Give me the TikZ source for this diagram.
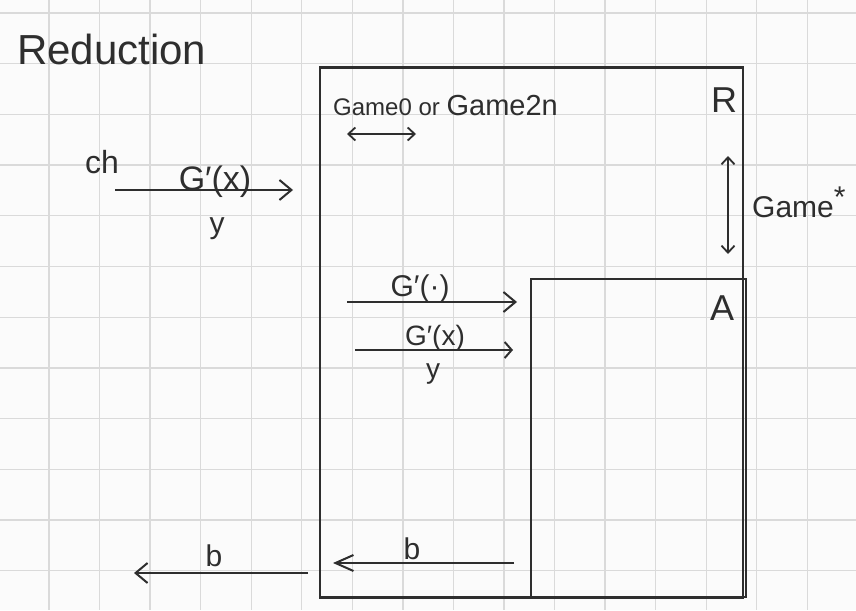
\documentclass[tikz,border=0pt]{standalone}
\usepackage{fontspec}
\setmainfont{Liberation Sans}
\usetikzlibrary{arrows.meta}
\definecolor{ink}{HTML}{2E2E2E}
\definecolor{gridc}{HTML}{DADADA}
\definecolor{paper}{HTML}{FBFBFB}
\newcommand{\fs}[1]{\fontsize{#1}{#1}\selectfont}
\tikzset{
  box/.style={draw=ink, line width=2.4pt, inner sep=0pt},
  lbl/.style={text=ink, inner sep=0pt, anchor=base},
  conn/.style={draw=ink, line width=2pt, -{Straight Barb[length=12pt,width=20pt,line width=2pt]}},
  smallconn/.style={draw=ink, line width=2pt, -{Straight Barb[length=7pt,width=16pt,line width=2pt]}},
  longconn/.style={draw=ink, line width=2pt, -{Straight Barb[length=18pt,width=16pt,line width=2pt]}},
  dconn/.style={draw=ink, line width=1.8pt, {Straight Barb[length=7pt,width=13pt,line width=1.8pt]}-{Straight Barb[length=7pt,width=13pt,line width=1.8pt]}},
}
\begin{document}
\begin{tikzpicture}[x=1pt,y=-1pt]
\useasboundingbox[fill=paper] (0,0) rectangle (856,610);
% grid
\foreach \k in {0,...,15} \draw[gridc, line width=1.3pt] ({49+50.55*\k},0) -- ({49+50.55*\k},610);
\foreach \k in {0,...,11} \draw[gridc, line width=1.3pt] (0,{13+50.7*\k}) -- (856,{13+50.7*\k});

% title
\node[lbl, anchor=base west] (title) at (17,64) {\fs{42}Reduction};

% boxes
\node[box, minimum width=423pt, minimum height=530pt] (R) at (531.5,332.5) {};
\node[box, minimum width=215pt, minimum height=318pt] (A) at (638.5,438) {};
\node[lbl] (Rl) at (724,112) {\fs{36}R};
\node[lbl] (Al) at (722,320) {\fs{36}A};

% challenger side
\node[lbl, anchor=base west] (ch) at (85,173) {\fs{32}ch};
\coordinate (c1s) at (115,190);
\coordinate (c1e) at (293,190);
\draw[conn] (c1s) -- (c1e);
\node[lbl] (gx1) at (215,190) {\fs{34}G′(x)};
\node[lbl] (y1) at (217,233) {\fs{30}y};

% game labels
\node[lbl, anchor=base west] (games) at (333,115) {\fs{24}Game0 or \fs{29}Game2n};
\coordinate (gs) at (347,134);
\coordinate (ge) at (416,134);
\draw[dconn] (gs) -- (ge);

\coordinate (vs) at (728,156);
\coordinate (ve) at (728,254);
\draw[dconn] (vs) -- (ve);
\node[lbl, anchor=base west] (gstar) at (752,217) {\fs{30}Game\textsuperscript{\fs{30}*}};

% R -> A
\coordinate (a1s) at (347,302);
\coordinate (a1e) at (517,302);
\draw[conn] (a1s) -- (a1e);
\node[lbl] (gdot) at (420,296) {\fs{30}G′(·)};

\coordinate (a2s) at (355,350);
\coordinate (a2e) at (513,350);
\draw[smallconn] (a2s) -- (a2e);
\node[lbl] (gx2) at (435,345) {\fs{28}G′(x)};
\node[lbl] (y2) at (433,378) {\fs{28}y};

% b arrows
\coordinate (b1s) at (514,563);
\coordinate (b1e) at (333,563);
\draw[longconn] (b1s) -- (b1e);
\node[lbl] (b1) at (412,559) {\fs{30}b};

\coordinate (b2s) at (308,573);
\coordinate (b2e) at (134,573);
\draw[conn] (b2s) -- (b2e);
\node[lbl] (b2) at (214,566) {\fs{30}b};
\end{tikzpicture}
\end{document}
